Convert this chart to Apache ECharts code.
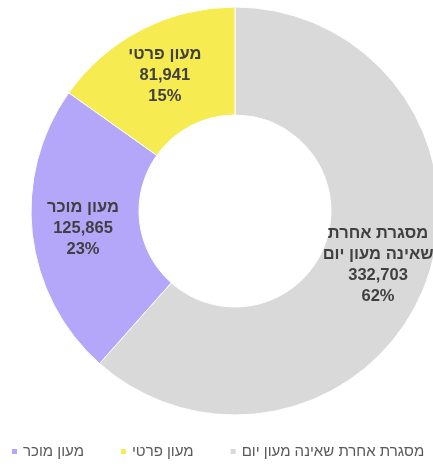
<!DOCTYPE html>
<html>
<head>
<meta charset="utf-8">
<script src="https://cdn.jsdelivr.net/npm/echarts@6/dist/echarts.min.js"></script>
<style>
html,body{margin:0;padding:0;background:#fff;}
#chart{width:433px;height:466px;}
</style>
</head>
<body>
<div id="chart"></div>
<script>
var categories = ['מסגרת אחרת שאינה מעון יום', 'מעון מוכר', 'מעון פרטי'];
var labelNames = ['מסגרת אחרת\nשאינה מעון יום', 'מעון מוכר', 'מעון פרטי'];
var values = [332703, 125865, 81941];
var colors = ['#d9d9d9', '#b4a7fa', '#f6eb50'];
var legendOrder = ['מעון מוכר', 'מעון פרטי', 'מסגרת אחרת שאינה מעון יום'];

var chart = echarts.init(document.getElementById('chart'), null, {renderer: 'canvas'});
var data = categories.map(function (c, i) {
  return {name: c, value: values[i], itemStyle: {color: colors[i]}};
});
chart.setOption({
  backgroundColor: '#ffffff',
  animation: false,
  legend: {
    data: legendOrder,
    orient: 'horizontal',
    left: 10,
    top: 444,
    padding: 0,
    width: 900,
    icon: 'rect',
    itemWidth: 7,
    itemHeight: 7,
    itemGap: 35,
    textStyle: {fontFamily: 'Liberation Sans, Arial, sans-serif', fontSize: 15, color: '#595959'}
  },
  series: [{
    type: 'pie',
    center: [235, 211],
    radius: [96, 204],
    startAngle: 90,
    clockwise: true,
    avoidLabelOverlap: false,
    itemStyle: {borderColor: '#ffffff', borderWidth: 1},
    label: {
      show: true,
      position: 'inside',
      fontFamily: 'Liberation Sans, Arial, sans-serif',
      fontSize: 16.5,
      fontWeight: 'bold',
      lineHeight: 21,
      color: '#404040',
      align: 'center',
      formatter: function (p) {
        return labelNames[p.dataIndex] + '\n' + p.value.toLocaleString('en-US') + '\n' + Math.round(p.percent) + '%';
      }
    },
    labelLine: {show: false},
    emphasis: {disabled: true},
    data: data
  }]
});
</script>
</body>
</html>
